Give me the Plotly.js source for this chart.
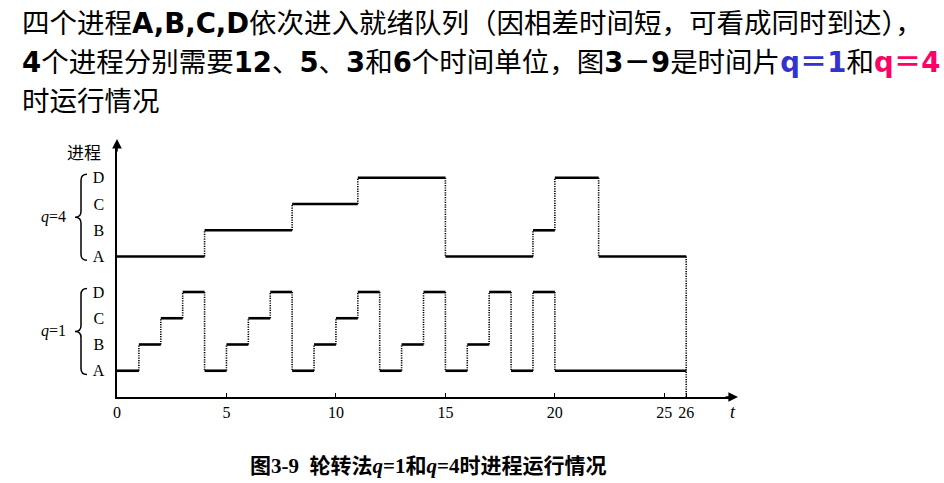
<!DOCTYPE html>
<html>
<head>
<meta charset="utf-8">
<script src="https://cdn.plot.ly/plotly-3.0.1.min.js"></script>
<style>
  html, body { margin: 0; padding: 0; background: #fff; }
  #chart { width: 944px; height: 483px; }
</style>
</head>
<body>
<div id="chart"></div>
<script>
// ---------------- data ----------------
const processes = ['A', 'B', 'C', 'D'];
const burstTimes = [12, 5, 3, 6];
const endTime = 26;
// q = 1 : process running in each slice and the slice start time
const q1Procs  = ['A','B','C','D','A','B','C','D','A','B','C','D','A','B','D','A','B','D','A','D','A'];
const q1Starts = [0, 1, 2, 3, 4, 5, 6, 7, 8, 9, 10, 11, 12, 13, 14, 15, 16, 17, 18, 19, 20];
// q = 4
const q4Procs  = ['A','B','C','D','A','B','D','A'];
const q4Starts = [0, 4, 8, 11, 15, 19, 20, 22];
const xTickVals = [0, 5, 10, 15, 20, 25, 26];
const xTickText = ['0', '5', '10', '15', '20', '25', '26'];
const yAxisTitle = '进程';
const xAxisTitle = 't';
const groupLabels = ['<i>q</i>=4', '<i>q</i>=1'];
const captionText = '<b>图3-9  轮转法<i>q</i>=1和<i>q</i>=4时进程运行情况</b>';
const headLines = [
  '四个进程<b>A,B,C,D</b>依次进入就绪队列（因相差时间短，可看成同时到达），',
  '<b>4</b>个进程分别需要<b>12</b>、<b>5</b>、<b>3</b>和<b>6</b>个时间单位，图<b>3－9</b>是时间片<b><span style="color:#3333cc">q＝1</span></b>和<b><span style="color:#ff0066">q＝4</span></b>',
  '时运行情况'
];

// ---------------- layout geometry ----------------
const L = 117, R = 730, T = 145, B = 397;
const W = R - L, H = B - T;
const X_MAX = 28, Y_MAX = 9.6;
const px2x = p => (p - L) / W;
const py2y = p => (B - p) / H;
const BASE_Q1 = 1, BASE_Q4 = 5.35;

function level(base, proc) { return base + processes.indexOf(proc); }

function buildTraces(procs, starts, base) {
  const hx = [], hy = [], vx = [], vy = [];
  for (let i = 0; i < procs.length; i++) {
    const s = starts[i];
    const e = i + 1 < starts.length ? starts[i + 1] : endTime;
    const lv = level(base, procs[i]);
    hx.push(s, e, null); hy.push(lv, lv, null);
    if (i > 0) {
      vx.push(s, s, null);
      vy.push(level(base, procs[i - 1]), lv, null);
    }
  }
  return [
    { x: vx, y: vy, mode: 'lines', type: 'scatter', hoverinfo: 'skip',
      line: { color: '#000', width: 1.6, dash: '1.2px,1.2px' }, showlegend: false },
    { x: hx, y: hy, mode: 'lines', type: 'scatter', hoverinfo: 'skip',
      line: { color: '#000', width: 2.6 }, showlegend: false }
  ];
}

const traces = [].concat(
  buildTraces(q4Procs, q4Starts, BASE_Q4),
  buildTraces(q1Procs, q1Starts, BASE_Q1),
  [{ x: [endTime, endTime], y: [level(BASE_Q4, q4Procs[q4Procs.length - 1]), 0],
     mode: 'lines', type: 'scatter', hoverinfo: 'skip', showlegend: false,
     line: { color: '#000', width: 1.6, dash: '1.2px,1.2px' } }]
);

const yTickVals = processes.map(p => level(BASE_Q1, p)).concat(processes.map(p => level(BASE_Q4, p)));
const yTickText = processes.concat(processes);

const serif = '"Liberation Serif", "Times New Roman", serif';
const cjk = '"Noto Sans CJK SC", sans-serif';
const head = 'DejaVu Sans, "Noto Sans CJK SC", sans-serif';

const annotations = [];
// header lines
const headY = [23, 62, 101];
headLines.forEach((t, i) => annotations.push({
  xref: 'paper', yref: 'paper', x: px2x(20), y: py2y(headY[i]),
  xanchor: 'left', yanchor: 'middle', showarrow: false, text: t,
  font: { family: head, size: 27.5, color: '#000' }
}));
// axis arrows
annotations.push({ xref: 'paper', yref: 'paper', x: px2x(738), y: 0, ax: -14, ay: 0,
  showarrow: true, arrowhead: 2, arrowsize: 1.2, arrowwidth: 1.6, arrowcolor: '#000', text: '' });
annotations.push({ xref: 'paper', yref: 'paper', x: 0, y: py2y(139), ax: 0, ay: 14,
  showarrow: true, arrowhead: 2, arrowsize: 1.2, arrowwidth: 1.6, arrowcolor: '#000', text: '' });
// axis titles
annotations.push({ xref: 'paper', yref: 'paper', x: px2x(84), y: py2y(151), showarrow: false,
  xanchor: 'center', yanchor: 'middle',
  text: yAxisTitle, font: { family: cjk, size: 17, color: '#000' } });
annotations.push({ xref: 'paper', yref: 'paper', x: px2x(733), y: py2y(412), showarrow: false,
  xanchor: 'center', yanchor: 'middle',
  text: '<i>' + xAxisTitle + '</i>', font: { family: serif, size: 18, color: '#000' } });
// group labels
const mids = [(level(BASE_Q4, 'A') + level(BASE_Q4, 'D')) / 2, (level(BASE_Q1, 'A') + level(BASE_Q1, 'D')) / 2];
mids.forEach((m, i) => annotations.push({
  xref: 'paper', yref: 'paper', x: px2x(68), y: m / Y_MAX, xanchor: 'right', yanchor: 'middle',
  showarrow: false, text: groupLabels[i], font: { family: serif, size: 16, color: '#000' }
}));
// caption
annotations.push({ xref: 'paper', yref: 'paper', x: px2x(428), y: py2y(466), showarrow: false,
  xanchor: 'center', yanchor: 'middle', text: captionText,
  font: { family: '"Liberation Serif", "Noto Sans CJK SC", serif', size: 21, color: '#000' } });

// braces
const bracePath = 'M 12 -43 Q 6 -43 6 -37 L 6 -6 Q 6 0 0 0 Q 6 0 6 6 L 6 37 Q 6 43 12 43';
const shapes = mids.map(m => ({
  type: 'path', xref: 'paper', yref: 'paper', xsizemode: 'pixel', ysizemode: 'pixel',
  xanchor: px2x(75), yanchor: m / Y_MAX, path: bracePath,
  line: { color: '#000', width: 1.5 }
}));

const layout = {
  width: 944, height: 483,
  margin: { l: L, r: 944 - R, t: T, b: 483 - B, pad: 0 },
  paper_bgcolor: '#fff', plot_bgcolor: '#fff',
  showlegend: false,
  xaxis: {
    range: [0, X_MAX], showgrid: false, zeroline: false, showline: true,
    linecolor: '#000', linewidth: 1.6, ticks: 'inside', ticklen: 4, tickwidth: 1, tickcolor: '#000',
    tickvals: xTickVals, ticktext: xTickText, tickfont: { family: serif, size: 16, color: '#000' },
    fixedrange: true
  },
  yaxis: {
    range: [0, Y_MAX], showgrid: false, zeroline: false, showline: true,
    linecolor: '#000', linewidth: 1.6, ticks: '', tickvals: yTickVals, ticktext: yTickText,
    tickfont: { family: serif, size: 16, color: '#000' }, ticklabelstandoff: 8,
    fixedrange: true
  },
  annotations: annotations,
  shapes: shapes
};

Plotly.newPlot('chart', traces, layout, { staticPlot: true, displayModeBar: false });
</script>
</body>
</html>
